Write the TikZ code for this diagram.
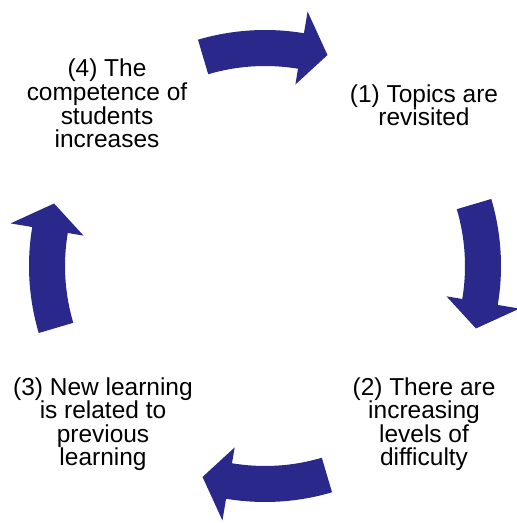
\documentclass[tikz,border=0pt]{standalone}
\usepackage{fontspec}
\setmainfont{Liberation Sans}
\definecolor{cyclenavy}{RGB}{42,41,139}
\newcommand{\cyclearrow}[1]{%
  \fill [cyclenavy] ({#1+16.5}:236) arc [start angle={#1+16.5}, end angle={#1-9.5}, radius=236]
    -- ({#1-9.5}:258) -- ({#1-16.5}:220) -- ({#1-9.5}:184) -- ({#1-9.5}:200)
    arc [start angle={#1-9.5}, end angle={#1+16.5}, radius=200] -- cycle;}

\begin{document}
\begin{tikzpicture}[x=0.025cm, y=0.025cm,
    cycletext/.style={align=center, inner sep=0pt, anchor=north, font=\fontsize{17.4}{16.8}\selectfont}]
    \useasboundingbox (0,0) rectangle (516,523);
    \coordinate (ctr) at (265,257);
    \node [cycletext] (topics) at (424,439) {(1) Topics are\\revisited};
    \node [cycletext] (levels) at (424,146) {(2) There are\\increasing\\levels of\\difficulty};
    \node [cycletext] (related) at (103,146) {(3) New learning\\is related to\\previous\\learning};
    \node [cycletext] (competence) at (107,464) {(4) The\\competence of\\students\\increases};
    \begin{scope}[shift={(ctr)}]
        \foreach \a in {90,0,-90,180} {\cyclearrow{\a}}
    \end{scope}
\end{tikzpicture}
\end{document}
